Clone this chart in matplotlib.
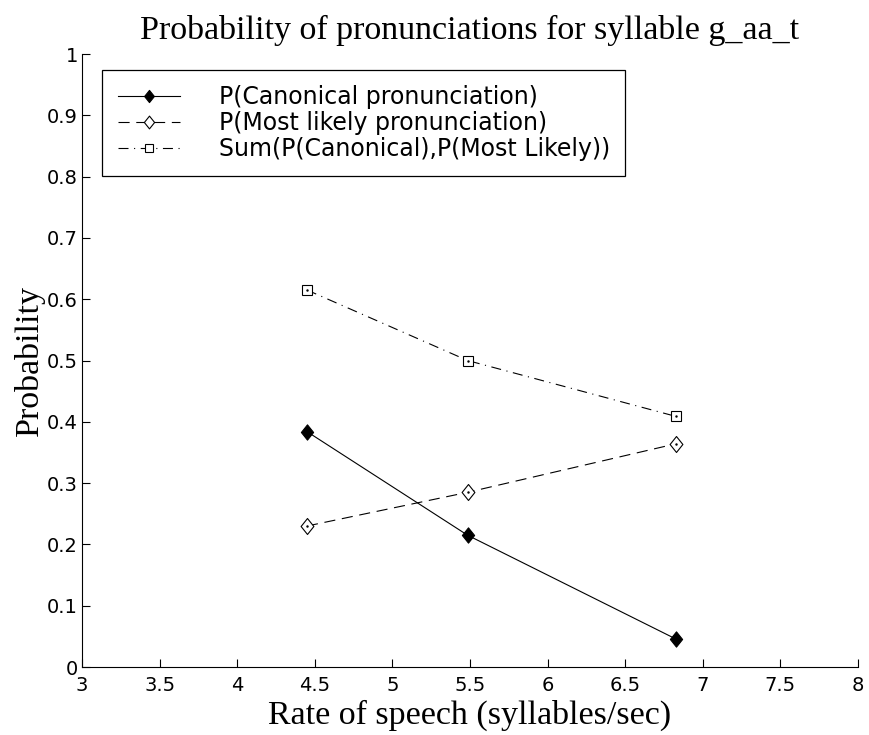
import matplotlib
matplotlib.use("Agg")
import matplotlib.pyplot as plt
from matplotlib.path import Path

# rate of speech (syllables/sec)
rate = [4.45, 5.485, 6.825]
# probabilities
p_canonical = [0.384, 0.215, 0.046]
p_most_likely = [0.230, 0.285, 0.364]
p_sum = [0.615, 0.500, 0.409]

labels = ["P(Canonical pronunciation)",
          "P(Most likely pronunciation)",
          "Sum(P(Canonical),P(Most Likely))"]

xticks = [3, 3.5, 4, 4.5, 5, 5.5, 6, 6.5, 7, 7.5, 8]
yticks = [0, 0.1, 0.2, 0.3, 0.4, 0.5, 0.6, 0.7, 0.8, 0.9, 1]

# matlab style diamond, a bit taller than wide
diamond = Path([(0, 1), (0.8, 0), (0, -1), (-0.8, 0), (0, 1)],
               [Path.MOVETO, Path.LINETO, Path.LINETO, Path.LINETO, Path.CLOSEPOLY])

fig = plt.figure(figsize=(8.7, 7.35), dpi=100)
ax = fig.add_axes([0.0943, 0.0925, 0.8917, 0.834])

lw = 0.8
ax.plot(rate, p_canonical, color="black", linestyle="-", linewidth=lw,
        marker=diamond, markersize=11, markerfacecolor="black", markeredgewidth=0.8,
        label=labels[0])
ax.plot(rate, p_most_likely, color="black", linestyle=(0, (10, 6)), linewidth=lw,
        marker=diamond, markersize=11.5, markerfacecolor="white", markeredgewidth=0.8,
        label=labels[1])
ax.plot(rate, p_sum, color="black", linestyle=(0, (9, 5, 1, 5)), linewidth=lw,
        marker="s", markersize=6.7, markerfacecolor="white", markeredgewidth=0.8,
        label=labels[2])
# little centre dots on the open markers
ax.plot(rate, p_most_likely, linestyle="none", marker=".", markersize=1.5, color="black")
ax.plot(rate, p_sum, linestyle="none", marker=".", markersize=1.5, color="black")

ax.set_xlim(3, 8)
ax.set_ylim(0, 1)
ax.set_xticks(xticks)
ax.set_yticks(yticks)
ax.set_xticklabels([f"{t:g}" for t in xticks], family="DejaVu Sans", fontsize=14)
ax.set_yticklabels([f"{t:g}" for t in yticks], family="DejaVu Sans", fontsize=14)
ax.tick_params(direction="in", length=5.5, width=0.8)
ax.tick_params(axis="x", pad=6.5)
ax.tick_params(axis="y", pad=3)

ax.spines["top"].set_visible(False)
ax.spines["right"].set_visible(False)
ax.spines["left"].set_linewidth(0.8)
ax.spines["bottom"].set_linewidth(0.8)

ax.set_title("Probability of pronunciations for syllable g_aa_t",
             family="Liberation Serif", fontsize=24.5, pad=10.8)
ax.set_xlabel("Rate of speech (syllables/sec)", family="Liberation Serif", fontsize=24.5)
ax.set_ylabel("Probability", family="Liberation Serif", fontsize=24.5)
ax.xaxis.set_label_coords(0.5, -0.054)
ax.yaxis.set_label_coords(-0.048, 0.5)

leg = ax.legend(loc="upper left", bbox_to_anchor=(0.026, 0.974),
                prop={"family": "DejaVu Sans", "size": 17},
                frameon=True, fancybox=False, edgecolor="black", framealpha=1,
                handlelength=2.63, handletextpad=1.65, labelspacing=0.08,
                borderpad=0.65, borderaxespad=0, markerscale=0.8)
leg.get_frame().set_linewidth(0.9)

fig.savefig("out.png", dpi=100)
